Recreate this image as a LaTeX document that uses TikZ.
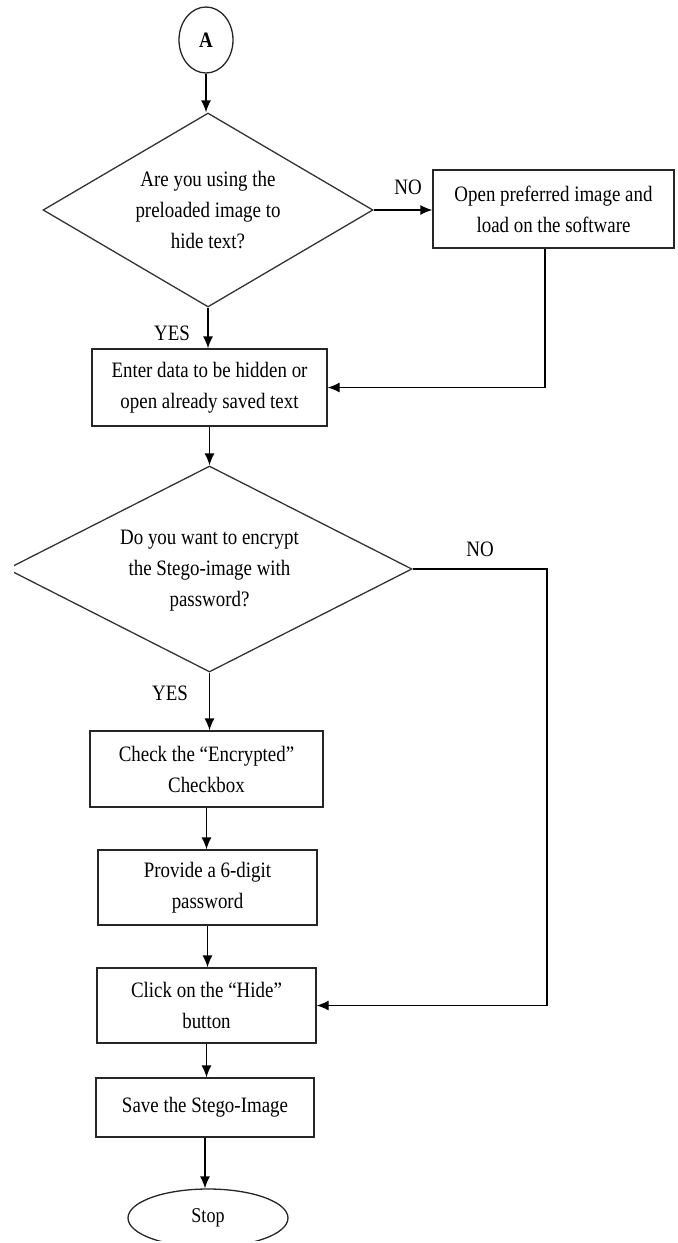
\documentclass[tikz,border=0pt]{standalone}
\usepackage{fontspec}
\setmainfont[FakeStretch=0.86]{Liberation Serif}
\usetikzlibrary{shapes.geometric,arrows.meta}
\begin{document}
\begin{tikzpicture}[x=0.5pt,y=-0.5pt,
  every node/.style={font=\fontsize{11}{15.5}\selectfont, align=center, inner sep=0pt},
  procbox/.style={draw=black!85, line width=0.65pt, rectangle},
  decision/.style={draw=black!80, line width=0.65pt, diamond, shape aspect=2},
  term/.style={draw=black!85, line width=0.65pt, ellipse},
  lbl/.style={},
  arr/.style={draw=black, line width=0.65pt, -{Latex[length=6pt,width=5pt]}}]
\useasboundingbox (0,0) rectangle (677,1243);

\node[term, minimum width=27pt, minimum height=33pt] (A) at (206,40) {\textbf{A}};
\node[decision, minimum width=165pt, minimum height=97pt] (d1) at (208,210)
  {Are you using the\\preloaded image to\\hide text?};
\node[procbox, minimum width=120.5pt, minimum height=39pt] (b1) at (553.5,209)
  {Open preferred image and\\load on the software};
\node[procbox, minimum width=117.5pt, minimum height=38.5pt] (b2) at (209.5,387.5)
  {Enter data to be hidden or\\open already saved text};
\begin{scope}
  \clip (14,440) rectangle (677,700);
  \node[decision, minimum width=202.5pt, minimum height=103pt] (d2) at (209.5,569)
    {\raisebox{2.5pt}{\begin{tabular}{@{}c@{}}Do you want to encrypt\\the Stego-image with\\password?\end{tabular}}};
\end{scope}
\node[procbox, minimum width=116.5pt, minimum height=38pt] (b3) at (206.5,769)
  {Check the “Encrypted”\\Checkbox};
\node[procbox, minimum width=109.5pt, minimum height=37.5pt] (b4) at (207.5,887.5)
  {Provide a 6-digit\\password};
\node[procbox, minimum width=109.5pt, minimum height=37.5pt] (b5) at (206.5,1005.5)
  {Click on the “Hide”\\button};
\node[procbox, minimum width=109pt, minimum height=29.5pt] (b6) at (205,1107.5)
  {\raisebox{2.75pt}{Save the Stego-Image}};
\begin{scope}
  \clip (0,1150) rectangle (677,1240);
  \node[term, minimum width=80pt, minimum height=29pt, font=\fontsize{10.5}{12}\selectfont] (stop) at (208,1218) {Stop};
\end{scope}

\node[lbl] (no1) at (408,187) {NO};
\node[lbl] (yes1) at (172,333) {YES};
\node[lbl] (no2) at (480,549) {NO};
\node[lbl] (yes2) at (170,693) {YES};

\coordinate (k2) at (547,1005);

\draw[arr] (A.south) -- (A.south |- d1.north);
\draw[arr] (d1.east) -- (d1.east -| b1.west);
\draw[arr] (d1.south) -- (d1.south |- b2.north);
\draw[arr] ([xshift=-4.25pt]b1.south) |- (b2.east);
\draw[arr] (b2.south) -- (b2.south |- d2.north);
\draw[arr] (d2.south) -- (d2.south |- b3.north);
\draw[arr] (d2.east) -| (k2) |- (b5.east);
\draw[arr] (b3.south) -- (b3.south |- b4.north);
\draw[arr] (b4.south) -- (b4.south |- b5.north);
\draw[arr] (b5.south) -- (b5.south |- b6.north);
\draw[arr] (b6.south) -- (b6.south |- stop.north);
\end{tikzpicture}
\end{document}
